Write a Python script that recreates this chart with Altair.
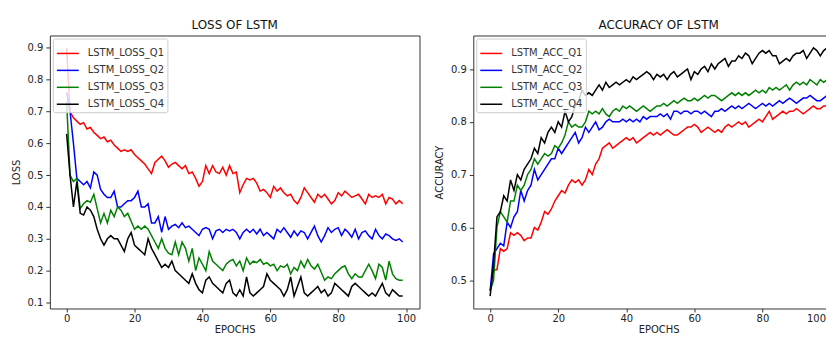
import altair as alt
import pandas as pd

epochs = list(range(100))

loss_q1 = [0.90, 0.70, 0.68, 0.67, 0.66, 0.665, 0.645, 0.65, 0.635, 0.625,
           0.615, 0.62, 0.605, 0.61, 0.595, 0.585, 0.575, 0.58, 0.575, 0.58,
           0.565, 0.555, 0.545, 0.535, 0.52, 0.505, 0.54, 0.55, 0.56, 0.545,
           0.525, 0.535, 0.54, 0.53, 0.52, 0.53, 0.505, 0.51, 0.49, 0.465,
           0.48, 0.53, 0.505, 0.53, 0.51, 0.505, 0.525, 0.50, 0.53, 0.505,
           0.51, 0.445, 0.47, 0.49, 0.485, 0.49, 0.475, 0.45, 0.455, 0.445,
           0.43, 0.465, 0.45, 0.46, 0.445, 0.435, 0.44, 0.42, 0.41, 0.43,
           0.46, 0.445, 0.43, 0.415, 0.44, 0.43, 0.44, 0.425, 0.41, 0.42,
           0.445, 0.435, 0.45, 0.44, 0.43, 0.435, 0.44, 0.425, 0.41, 0.44,
           0.43, 0.435, 0.43, 0.44, 0.41, 0.43, 0.425, 0.41, 0.42, 0.41]

loss_q2 = [0.76, 0.70, 0.60, 0.49, 0.48, 0.47, 0.48, 0.46, 0.51, 0.50,
           0.455, 0.44, 0.43, 0.43, 0.45, 0.40, 0.40, 0.41, 0.42, 0.42,
           0.43, 0.45, 0.40, 0.40, 0.41, 0.35, 0.35, 0.37, 0.32, 0.37,
           0.33, 0.34, 0.345, 0.335, 0.35, 0.335, 0.34, 0.33, 0.32, 0.31,
           0.33, 0.335, 0.33, 0.30, 0.325, 0.33, 0.32, 0.33, 0.325, 0.33,
           0.32, 0.30, 0.32, 0.33, 0.32, 0.33, 0.315, 0.33, 0.31, 0.32,
           0.31, 0.30, 0.33, 0.32, 0.335, 0.32, 0.305, 0.325, 0.31, 0.325,
           0.32, 0.30, 0.32, 0.34, 0.31, 0.29, 0.31, 0.335, 0.32, 0.33,
           0.335, 0.31, 0.33, 0.32, 0.305, 0.33, 0.30, 0.32, 0.325, 0.31,
           0.30, 0.33, 0.31, 0.30, 0.315, 0.31, 0.30, 0.295, 0.30, 0.29]

loss_q3 = [0.73, 0.50, 0.48, 0.49, 0.395, 0.41, 0.42, 0.415, 0.44, 0.395,
           0.35, 0.38, 0.35, 0.39, 0.37, 0.40, 0.39, 0.37, 0.38, 0.355,
           0.33, 0.34, 0.33, 0.34, 0.33, 0.31, 0.29, 0.27, 0.30, 0.27,
           0.255, 0.25, 0.29, 0.25, 0.29, 0.27, 0.23, 0.27, 0.20, 0.24,
           0.22, 0.20, 0.26, 0.23, 0.22, 0.21, 0.20, 0.22, 0.23, 0.235,
           0.215, 0.23, 0.20, 0.24, 0.22, 0.23, 0.225, 0.235, 0.22, 0.225,
           0.215, 0.22, 0.20, 0.215, 0.21, 0.22, 0.19, 0.21, 0.20, 0.23,
           0.21, 0.235, 0.215, 0.205, 0.22, 0.195, 0.17, 0.18, 0.175, 0.19,
           0.20, 0.21, 0.215, 0.19, 0.175, 0.19, 0.18, 0.18, 0.20, 0.22,
           0.20, 0.175, 0.22, 0.21, 0.17, 0.23, 0.19, 0.175, 0.17, 0.17]

loss_q4 = [0.63, 0.50, 0.40, 0.48, 0.38, 0.375, 0.40, 0.39, 0.37, 0.33,
           0.30, 0.28, 0.30, 0.31, 0.30, 0.30, 0.28, 0.26, 0.30, 0.32,
           0.28, 0.27, 0.26, 0.25, 0.30, 0.27, 0.25, 0.23, 0.21, 0.22,
           0.21, 0.23, 0.20, 0.19, 0.18, 0.17, 0.16, 0.19, 0.16, 0.14,
           0.13, 0.17, 0.18, 0.16, 0.15, 0.14, 0.13, 0.16, 0.17, 0.13,
           0.12, 0.14, 0.12, 0.18, 0.13, 0.12, 0.13, 0.14, 0.15, 0.19,
           0.17, 0.16, 0.15, 0.14, 0.12, 0.14, 0.18, 0.12, 0.15, 0.18,
           0.13, 0.12, 0.13, 0.14, 0.15, 0.13, 0.14, 0.12, 0.13, 0.16,
           0.15, 0.14, 0.13, 0.12, 0.15, 0.16, 0.15, 0.14, 0.13, 0.12,
           0.13, 0.12, 0.14, 0.16, 0.13, 0.12, 0.14, 0.13, 0.12, 0.12]

acc_q1 = [0.48, 0.52, 0.52, 0.56, 0.555, 0.56, 0.59, 0.585, 0.59, 0.585,
          0.575, 0.58, 0.58, 0.60, 0.595, 0.61, 0.63, 0.625, 0.635, 0.65,
          0.66, 0.67, 0.665, 0.68, 0.69, 0.685, 0.69, 0.68, 0.69, 0.71,
          0.70, 0.72, 0.73, 0.75, 0.755, 0.76, 0.75, 0.755, 0.76, 0.765,
          0.77, 0.765, 0.77, 0.76, 0.765, 0.77, 0.775, 0.78, 0.775, 0.78,
          0.775, 0.78, 0.785, 0.78, 0.775, 0.775, 0.78, 0.785, 0.79, 0.79,
          0.795, 0.79, 0.78, 0.785, 0.79, 0.785, 0.78, 0.785, 0.78, 0.79,
          0.795, 0.79, 0.795, 0.80, 0.795, 0.80, 0.79, 0.795, 0.80, 0.805,
          0.80, 0.81, 0.82, 0.805, 0.81, 0.815, 0.82, 0.815, 0.82, 0.82,
          0.825, 0.82, 0.815, 0.82, 0.825, 0.83, 0.825, 0.825, 0.83, 0.83]

acc_q2 = [0.48, 0.55, 0.56, 0.57, 0.565, 0.61, 0.60, 0.62, 0.63, 0.67,
          0.65, 0.67, 0.68, 0.71, 0.69, 0.70, 0.71, 0.72, 0.73, 0.73,
          0.75, 0.74, 0.75, 0.76, 0.77, 0.78, 0.76, 0.77, 0.79, 0.78,
          0.79, 0.80, 0.785, 0.79, 0.80, 0.805, 0.80, 0.80, 0.80, 0.805,
          0.80, 0.805, 0.80, 0.805, 0.80, 0.81, 0.805, 0.81, 0.81, 0.81,
          0.815, 0.81, 0.815, 0.805, 0.82, 0.82, 0.815, 0.82, 0.82, 0.815,
          0.82, 0.82, 0.815, 0.82, 0.815, 0.81, 0.82, 0.82, 0.825, 0.82,
          0.825, 0.83, 0.825, 0.83, 0.825, 0.83, 0.835, 0.83, 0.825, 0.83,
          0.835, 0.83, 0.835, 0.83, 0.835, 0.84, 0.835, 0.84, 0.845, 0.84,
          0.835, 0.84, 0.845, 0.845, 0.85, 0.845, 0.84, 0.84, 0.845, 0.85]

acc_q3 = [0.48, 0.50, 0.60, 0.63, 0.62, 0.61, 0.65, 0.65, 0.68, 0.67,
          0.68, 0.70, 0.71, 0.73, 0.72, 0.73, 0.74, 0.735, 0.74, 0.755,
          0.75, 0.76, 0.775, 0.80, 0.79, 0.795, 0.79, 0.79, 0.80, 0.82,
          0.815, 0.82, 0.815, 0.825, 0.815, 0.81, 0.82, 0.825, 0.82, 0.83,
          0.825, 0.83, 0.825, 0.82, 0.825, 0.83, 0.825, 0.82, 0.825, 0.83,
          0.83, 0.835, 0.83, 0.835, 0.84, 0.835, 0.84, 0.845, 0.84, 0.84,
          0.845, 0.84, 0.845, 0.85, 0.845, 0.85, 0.85, 0.845, 0.84, 0.845,
          0.85, 0.855, 0.85, 0.855, 0.85, 0.855, 0.85, 0.855, 0.86, 0.855,
          0.86, 0.855, 0.865, 0.86, 0.865, 0.86, 0.865, 0.87, 0.86, 0.87,
          0.875, 0.87, 0.875, 0.87, 0.88, 0.875, 0.87, 0.88, 0.875, 0.88]

acc_q4 = [0.47, 0.53, 0.62, 0.63, 0.66, 0.65, 0.69, 0.67, 0.70, 0.69,
          0.71, 0.72, 0.73, 0.75, 0.74, 0.77, 0.76, 0.78, 0.79, 0.78,
          0.80, 0.79, 0.82, 0.80, 0.81, 0.83, 0.84, 0.86, 0.85, 0.855,
          0.85, 0.86, 0.87, 0.86, 0.875, 0.865, 0.87, 0.875, 0.87, 0.875,
          0.88, 0.875, 0.885, 0.88, 0.885, 0.89, 0.895, 0.89, 0.88, 0.89,
          0.885, 0.89, 0.88, 0.89, 0.895, 0.885, 0.89, 0.895, 0.90, 0.88,
          0.895, 0.89, 0.90, 0.905, 0.895, 0.91, 0.90, 0.91, 0.915, 0.92,
          0.905, 0.915, 0.915, 0.925, 0.92, 0.93, 0.925, 0.91, 0.92, 0.93,
          0.935, 0.93, 0.935, 0.925, 0.925, 0.91, 0.915, 0.92, 0.915, 0.925,
          0.93, 0.93, 0.935, 0.92, 0.93, 0.94, 0.935, 0.925, 0.935, 0.94]

loss_names = ["LSTM_LOSS_Q1", "LSTM_LOSS_Q2", "LSTM_LOSS_Q3", "LSTM_LOSS_Q4"]
acc_names = ["LSTM_ACC_Q1", "LSTM_ACC_Q2", "LSTM_ACC_Q3", "LSTM_ACC_Q4"]
line_colors = ["#ff0000", "#0000ff", "#008000", "#000000"]
x_ticks = [0, 20, 40, 60, 80, 100]
loss_ticks = [0.1, 0.2, 0.3, 0.4, 0.5, 0.6, 0.7, 0.8, 0.9]
acc_ticks = [0.5, 0.6, 0.7, 0.8, 0.9]


def long_df(names, series):
    rows = []
    for n, s in zip(names, series):
        for e, v in zip(epochs, s):
            rows.append({"epoch": e, "value": v, "series": n})
    return pd.DataFrame(rows)


loss_df = long_df(loss_names, [loss_q1, loss_q2, loss_q3, loss_q4])
acc_df = long_df(acc_names, [acc_q1, acc_q2, acc_q3, acc_q4])

axis_common = dict(grid=False, domain=False, tickColor="#333",
                   labelFontSize=10, labelColor="#222", labelFont="DejaVu Sans",
                   titleFontSize=10, titleFontWeight="normal", titleColor="#222",
                   titleFont="DejaVu Sans")

legend_common = dict(title=None, orient="top-left", offset=3, symbolType="stroke",
                     symbolSize=484, symbolStrokeWidth=1.5, labelFontSize=10,
                     labelFont="DejaVu Sans", labelColor="#333", labelOffset=8,
                     rowPadding=-2.5, padding=3, fillColor="rgba(255,255,255,0.8)",
                     strokeColor="#cccccc", cornerRadius=2, zindex=1)


def panel(df, names, title, ytitle, xdomain, ydomain, yticks, width, last_right=False):
    xaxis_extra = {}
    if last_right:
        xaxis_extra = dict(
            labelAlign={"condition": {"test": "datum.value == 100", "value": "right"},
                        "value": "center"},
            labelOffset={"condition": {"test": "datum.value == 100", "value": -5},
                         "value": 0},
        )
    return alt.Chart(df, title=alt.Title(title, fontSize=12, fontWeight="normal",
                                         font="DejaVu Sans", color="#111", offset=4)).mark_line(
        strokeWidth=1.5, clip=True
    ).encode(
        x=alt.X("epoch:Q", scale=alt.Scale(domain=xdomain, nice=False, zero=False),
                axis=alt.Axis(values=x_ticks, title="EPOCHS", titlePadding=1,
                              tickSize=3.5, labelPadding=2, **axis_common, **xaxis_extra)),
        y=alt.Y("value:Q", scale=alt.Scale(domain=ydomain, nice=False, zero=False),
                axis=alt.Axis(values=yticks, format=".1f", title=ytitle, titlePadding=6,
                              tickSize=4, labelPadding=3, **axis_common)),
        color=alt.Color("series:N", sort=names,
                        scale=alt.Scale(domain=names, range=line_colors),
                        legend=alt.Legend(**legend_common)),
        order=alt.Order("series:N"),
    ).properties(width=width, height=274)


left = panel(loss_df, loss_names, "LOSS OF LSTM", "LOSS", [-4.95, 103.95],
             [0.081, 0.939], loss_ticks, 371)
right = panel(acc_df, acc_names, "ACCURACY OF LSTM", "ACCURACY", [-4.95, 103.95],
              [0.4465, 0.9635], acc_ticks, 372, last_right=True)

chart = alt.hconcat(left, right, spacing=13).resolve_scale(
    color="independent").resolve_legend(color="independent").properties(
    padding={"top": 9, "left": 2, "right": -19, "bottom": -1},
    background="white"
).configure_view(stroke="#333", strokeWidth=1)

chart.save("out.html", embed_options={"renderer": "svg", "actions": False})
